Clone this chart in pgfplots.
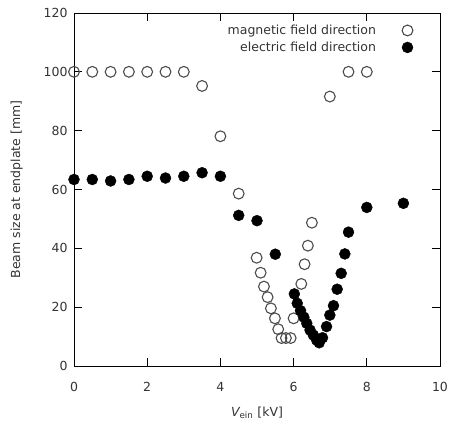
\documentclass[border=0pt]{standalone}
\usepackage{pgfplots}
\pgfplotsset{compat=1.18}
\usepackage{fontspec}
\setmainfont{DejaVu Sans}

% beam size at the endplate versus einzel lens voltage
\pgfplotstableread{
x y
0 100
0.5 100
1 100
1.5 100
2 100
2.5 100
3 100
3.5 95.2
4 78.1
4.5 58.6
4.99 36.8
5.10 31.7
5.19 27.0
5.29 23.4
5.38 19.6
5.49 16.2
5.58 12.5
5.67 9.5
5.79 9.5
5.92 9.5
6.00 16.2
6.21 27.9
6.30 34.6
6.39 40.9
6.50 48.7
6.99 91.6
7.5 100
8 100
}\magnetic

\pgfplotstableread{
x y
0 63.4
0.5 63.4
1 62.9
1.5 63.4
2 64.5
2.5 63.9
3 64.5
3.5 65.7
4 64.5
4.5 51.2
5 49.4
5.5 38.0
6.02 24.5
6.10 21.3
6.19 18.8
6.28 16.6
6.36 14.5
6.45 12.2
6.54 10.5
6.63 8.8
6.70 7.9
6.79 9.6
6.90 13.4
6.99 17.3
7.09 20.5
7.19 26.1
7.30 31.5
7.40 38.1
7.50 45.5
8 53.9
9 55.3
}\electric

\newcommand\lblfont{\fontsize{12.5}{14}\selectfont}

\begin{document}
\begin{tikzpicture}
\begin{axis}[
  scale only axis,
  width=366pt, height=353pt,
  xmin=0, xmax=10, ymin=0, ymax=120,
  xtick={0,2,...,10}, ytick={0,20,...,120},
  tick align=inside,
  major tick length=8pt,
  axis line style={line width=0.9pt},
  tick style={line width=0.8pt, black},
  tick label style={font=\lblfont, text=black!80},
  xticklabel style={yshift=-13pt},
  yticklabel style={xshift=-3pt},
  /pgf/number format/assume math mode=true,
  xlabel={{\itshape V}\textsubscript{ein} [kV]},
  ylabel={Beam size at endplate [mm]},
  label style={font=\lblfont, text=black!80},
  xlabel style={yshift=-8pt},
  ylabel style={yshift=14pt},
  legend style={draw=none, fill=none, at={(0.935,0.978)}, anchor=north east,
    font=\lblfont, text=black!80, row sep=2pt,
    /tikz/every odd column/.append style={column sep=24pt}},
  legend cell align=right,
  legend plot pos=right,
  clip=false,
]
\addplot[only marks, mark=o, mark size=5.4pt, black!70, mark options={line width=1.1pt}]
  table[x=x, y=y] {\magnetic};
\addlegendentry{magnetic field direction}
\addplot[only marks, mark=*, mark size=5.5pt, black]
  table[x=x, y=y] {\electric};
\addlegendentry{electric field direction}
\end{axis}
\pgfresetboundingbox
\path (current axis.south west) ++(-74pt,-56pt) rectangle ([xshift=10pt,yshift=13pt]current axis.north east);
\end{tikzpicture}
\end{document}
